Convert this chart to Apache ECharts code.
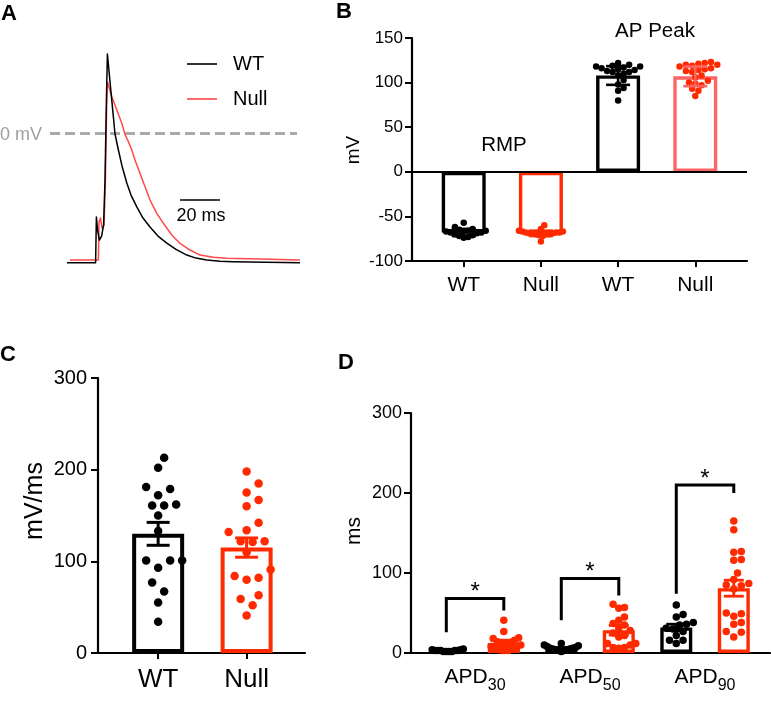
<!DOCTYPE html>
<html><head><meta charset="utf-8">
<script src="https://cdn.jsdelivr.net/npm/echarts@6/dist/echarts.min.js"></script>
<style>html,body{margin:0;padding:0;background:#fff}#c{width:771px;height:701px}</style>
</head><body><div id="c"></div><script>
// ---------- Panel A: action potential traces (ms, mV) ----------
const traceTimeWT = [0, 14.3, 14.7, 15.3, 16.2, 17.3, 18.3, 19.0, 19.7, 20.2, 22.0, 24.0, 25.7, 27.5, 29.9, 32.0, 34.9, 38.0, 41.5, 45.5, 49.9, 54.5, 59.9, 64.5, 69.9, 76.5, 83.0, 116.5];
const traceVoltWT = [-68.7, -68.7, -44.4, -51.3, -56.6, -54.5, -48.6, -24.7, 17.9, 42.3, 22.1, -0.2, -8.7, -17.2, -26.3, -32.7, -39.0, -44.9, -49.7, -54.5, -58.2, -61.6, -64.6, -66.2, -67.2, -67.9, -68.1, -68.7];
const traceTimeNull = [1.5, 15.7, 16.0, 16.8, 17.5, 18.5, 19.2, 19.8, 20.2, 22.4, 24.9, 27.4, 29.0, 30.7, 32.4, 34.0, 36.5, 39.0, 41.5, 44.9, 48.2, 52.4, 56.5, 61.5, 66.5, 73.2, 79.9, 96.5, 116.5];
const traceVoltNull = [-67.2, -67.2, -47.0, -44.9, -50.2, -48.6, -24.7, 12.6, 27.6, 19.6, 12.6, 5.5, -0.4, -4.3, -8.7, -14.0, -21.1, -28.2, -35.3, -42.4, -47.7, -53.9, -58.4, -61.9, -64.6, -65.8, -66.3, -66.7, -67.2];
const zeroLineSpan = [-8.5, 115];
const scaleBar = [56.5, 20, -35.3]; // start ms, length ms, level mV

// ---------- Panel B: RMP and AP peak (mV) ----------
const bCategories = ['WT', 'Null', 'WT', 'Null'];
const rmpWT = [-57, -62, -64, -65, -66, -66, -67, -67, -68, -68, -69, -70, -71, -72, -73, -74];
const rmpNull = [-60, -64, -66, -67, -67, -68, -68, -68, -69, -69, -69, -70, -70, -70, -71, -72, -78];
const peakWT = [122, 120, 119, 118, 118, 117, 116, 115, 114, 113, 112, 112, 110, 108, 103, 98, 94, 91, 80];
const peakNull = [123, 122, 121, 120, 120, 119, 118, 116, 115, 114, 113, 112, 108, 106, 102, 100, 99, 97, 93, 91, 85];
const bMeans = [-68, -69, 108, 107];
const bErr = [4, 3, 10.5, 11];

// ---------- Panel C: dV/dt max (mV/ms) ----------
const cCategories = ['WT', 'Null'];
const cWT = [213, 202, 181, 179, 172, 162, 161, 161, 150, 133, 101, 101, 101, 93, 77, 67, 55, 34];
const cNull = [198, 185, 175, 167, 160, 142, 134, 132, 122, 122, 121, 110, 91, 84, 82, 80, 63, 59, 52, 41];
const cMeans = [130, 115];
const cErr = [12.5, 10.5];

// ---------- Panel D: APD (ms) ----------
const dCategories = ['APD30', 'APD50', 'APD90'];
const dWT30 = [5, 4, 4, 3, 3, 3, 3, 2, 2, 2, 2, 3];
const dNull30 = [41, 27, 19, 18, 16, 14, 13, 12, 11, 10, 8, 6, 5, 5, 4, 3, 3];
const dWT50 = [12, 10, 9, 8, 7, 6, 6, 5, 5, 4, 4, 3, 3, 2];
const dNull50 = [61, 57, 56, 45, 41, 37, 35, 31, 28, 25, 22, 20, 12, 12, 10, 7, 7, 6];
const dWT90 = [60, 48, 45, 38, 36, 35, 31, 30, 27, 22, 16, 16, 12];
const dNull90 = [165, 154, 127, 126, 117, 116, 100, 92, 87, 85, 84, 80, 50, 49, 46, 38, 36, 27, 26, 20];
const dMeansWT = [3.5, 6, 32];
const dMeansNull = [12.5, 28.5, 81];
const dErrWT = [0.5, 0.8, 4];
const dErrNull = [3.5, 6, 10];
const dBracketTop = [68, 93, 210];
const dBracketFootWT = [26, 41, 74];
const dBracketFootNull = [53, 72, 200];

// ---------- layout / style ----------
const FONT = "'Liberation Sans', Arial, Helvetica, sans-serif";
const BLACK = '#000000', RED = '#ff2a00', RED_LIGHT = '#ff6464', TRACE_RED = '#ff4848';
const G = {
  A: {left: 47, top: 49, width: 260, height: 220, x: [-10, 120], y: [-72, 45]},
  B: {left: 412, top: 38, width: 335, height: 223, x: [0.33, 4.67], y: [-100, 150]},
  C: {left: 98, top: 378, width: 207, height: 275, x: [0.32, 2.66], y: [0, 300]},
  D: {left: 411, top: 413, width: 359, height: 240, x: [0.443, 3.565], y: [0, 300]}
};
function pxX(g) { return g.width / (g.x[1] - g.x[0]); }
function pxY(g) { return g.height / (g.y[1] - g.y[0]); }

function swarm(values, g, diam, limit) {
  const sx = pxX(g), sy = pxY(g);
  const order = values.map((v, i) => i).sort((a, b) => values[a] - values[b]);
  const placed = [];
  const off = new Array(values.length).fill(0);
  const step = diam * 0.5;
  for (const i of order) {
    const py = values[i] * sy;
    for (let k = 0; k < 400; k++) {
      const m = Math.ceil(k / 2) * (k % 2 ? 1 : -1);
      const px = m * step;
      let ok = true;
      for (const p of placed) {
        const dx = p[0] - px, dy = p[1] - py;
        if (dx * dx + dy * dy < diam * diam * 0.85) { ok = false; break; }
      }
      if (ok) { placed.push([px, py]); off[i] = px; break; }
    }
  }
  const maxAbs = Math.max.apply(null, off.map(Math.abs));
  const scale = maxAbs > limit ? limit / maxAbs : 1;
  return off.map(o => o * scale / sx);
}
function pts(values, x, g, diam, limit) {
  const off = swarm(values, g, diam, limit);
  return values.map((v, i) => [x + off[i], v]);
}

const axisLineStyle = {color: BLACK, width: 2.2};
function yAxisOf(idx, g, fs, interval, margin) {
  return {
    gridIndex: idx, type: 'value', min: g.y[0], max: g.y[1], interval: interval,
    axisLine: {show: true, onZero: false, lineStyle: axisLineStyle},
    axisTick: {show: true, length: 7, lineStyle: {color: BLACK, width: 2}},
    axisLabel: {color: BLACK, fontFamily: FONT, fontSize: fs, margin: margin},
    splitLine: {show: false}
  };
}
function xAxisOf(idx, g, custom, labelOpt, tick) {
  return {
    gridIndex: idx, type: 'value', min: g.x[0], max: g.x[1],
    axisLine: {show: true, onZero: false, lineStyle: axisLineStyle},
    axisTick: tick ? {show: true, customValues: custom, length: 6, lineStyle: {color: BLACK, width: 2}} : {show: false},
    axisLabel: Object.assign({customValues: custom, color: BLACK, fontFamily: FONT}, labelOpt),
    splitLine: {show: false}
  };
}

function errSeries(idx, items, capW, lw) {
  return {
    type: 'custom', xAxisIndex: idx, yAxisIndex: idx, z: 5, silent: true,
    data: items,
    renderItem: function (params, api) {
      const x = api.value(0), m = api.value(1), e = api.value(2);
      const t = api.coord([x, m + e]), b = api.coord([x, m - e]);
      const st = {stroke: api.visual('color'), lineWidth: lw};
      const h = capW / 2;
      return {type: 'group', children: [
        {type: 'line', shape: {x1: t[0], y1: t[1], x2: b[0], y2: b[1]}, style: st},
        {type: 'line', shape: {x1: t[0] - h, y1: t[1], x2: t[0] + h, y2: t[1]}, style: st},
        {type: 'line', shape: {x1: b[0] - h, y1: b[1], x2: b[0] + h, y2: b[1]}, style: st}
      ]};
    }
  };
}
function scatterSeries(idx, data, color, size) {
  return {type: 'scatter', xAxisIndex: idx, yAxisIndex: idx, z: 4, symbolSize: size, data: data,
    itemStyle: {color: color, opacity: 1}, silent: true};
}
function barItem(x, y, color) {
  return {value: [x, y], itemStyle: {borderColor: color}};
}
function barSeries(idx, items, w, bw, extra) {
  return Object.assign({type: 'bar', xAxisIndex: idx, yAxisIndex: idx, z: 2, barWidth: w, silent: true,
    itemStyle: {color: '#ffffff', borderWidth: bw}, data: items}, extra || {});
}

const bPos = [1, 2, 3, 4];
const bColors = [BLACK, RED, BLACK, RED_LIGHT];
const bPointColors = [BLACK, RED, BLACK, RED];
const bGroups = [rmpWT, rmpNull, peakWT, peakNull];
const dOffset = 0.25;

const series = [
  // A
  {type: 'line', name: '0 mV ref', xAxisIndex: 0, yAxisIndex: 0, symbol: 'none', z: 1, silent: true,
    data: zeroLineSpan.map(t => [t, 0]), lineStyle: {color: '#aaaaaa', width: 3, type: [10, 5]}},
  {type: 'line', name: 'WT', xAxisIndex: 0, yAxisIndex: 0, symbol: 'none', z: 3, color: BLACK,
    data: traceTimeWT.map((t, i) => [t, traceVoltWT[i]]), lineStyle: {color: BLACK, width: 1.5, join: 'round'}},
  {type: 'line', name: 'Null', xAxisIndex: 0, yAxisIndex: 0, symbol: 'none', z: 2, color: TRACE_RED,
    data: traceTimeNull.map((t, i) => [t, traceVoltNull[i]]), lineStyle: {color: TRACE_RED, width: 1.5, join: 'round'}},
  {type: 'line', name: 'scale', xAxisIndex: 0, yAxisIndex: 0, symbol: 'none', silent: true,
    data: [[scaleBar[0], scaleBar[2]], [scaleBar[0] + scaleBar[1], scaleBar[2]]], lineStyle: {color: BLACK, width: 1.5}},
  // B
  barSeries(1, bPos.map((p, i) => barItem(p, bMeans[i], bColors[i])), 44, 3.4, {
    markLine: {silent: true, symbol: 'none', label: {show: false}, lineStyle: {color: BLACK, width: 2.2, type: 'solid'},
      data: [{yAxis: 0}]}
  }),
  ...bGroups.map((vals, i) => scatterSeries(1, pts(vals, bPos[i], G.B, 6.5, 22), bPointColors[i], 6.5)),
  errSeries(1, bPos.map((p, i) => ({value: [p, bMeans[i], bErr[i]], itemStyle: {color: bColors[i]}})), 24, 2.6),
  // C
  barSeries(2, [barItem(1, cMeans[0], BLACK), barItem(2, cMeans[1], RED)], 52, 4),
  scatterSeries(2, pts(cWT, 1, G.C, 12, 25), BLACK, 8.5),
  scatterSeries(2, pts(cNull, 2, G.C, 12, 25), RED, 8.5),
  errSeries(2, [{value: [1, cMeans[0], cErr[0]], itemStyle: {color: BLACK}}, {value: [2, cMeans[1], cErr[1]], itemStyle: {color: RED}}], 23, 3),
  // D
  barSeries(3, [0, 1, 2].flatMap(i => [barItem(i + 1 - dOffset, dMeansWT[i], BLACK), barItem(i + 1 + dOffset, dMeansNull[i], RED)]), 32, 3.4),
  ...[[dWT30, dNull30], [dWT50, dNull50], [dWT90, dNull90]].flatMap((pair, i) => [
    scatterSeries(3, pts(pair[0], i + 1 - dOffset, G.D, 7.5, 17), BLACK, 7.5),
    scatterSeries(3, pts(pair[1], i + 1 + dOffset, G.D, 7.5, 17), RED, 7.5)
  ]),
  errSeries(3, [0, 1, 2].flatMap(i => [
    {value: [i + 1 - dOffset, dMeansWT[i], dErrWT[i]], itemStyle: {color: BLACK}},
    {value: [i + 1 + dOffset, dMeansNull[i], dErrNull[i]], itemStyle: {color: RED}}
  ]), 20, 2.8),
  {type: 'custom', xAxisIndex: 3, yAxisIndex: 3, z: 6, silent: true,
    data: dBracketTop.map((t, i) => [i + 1, dBracketFootWT[i], dBracketFootNull[i], t]),
    renderItem: function (params, api) {
      const g = api.value(0), fl = api.value(1), fr = api.value(2), t = api.value(3);
      const p1 = api.coord([g - dOffset, fl]), p2 = api.coord([g - dOffset, t]);
      const p3 = api.coord([g + dOffset, t]), p4 = api.coord([g + dOffset, fr]);
      return {type: 'group', children: [
        {type: 'polyline', shape: {points: [p1, p2, p3, p4]}, style: {stroke: BLACK, lineWidth: 3, fill: null}},
        {type: 'text', x: (p2[0] + p3[0]) / 2, y: p2[1] - 6,
          style: {text: '*', fontSize: 24, fontFamily: FONT, fill: BLACK, align: 'center', verticalAlign: 'middle',
            textAlign: 'center', textVerticalAlign: 'middle'}}
      ]};
    }
  }
];

function txt(text, x, y, fs, opts) {
  const o = Object.assign({align: 'left', va: 'middle', color: BLACK, weight: 'normal', rot: 0}, opts || {});
  return {type: 'text', x: x, y: y, rotation: o.rot, silent: true,
    style: {text: text, fontSize: fs, fontFamily: FONT, fontWeight: o.weight, fill: o.color,
      align: o.align, verticalAlign: o.va, textAlign: o.align, textVerticalAlign: o.va}};
}

const option = {
  animation: false,
  backgroundColor: '#ffffff',
  grid: [G.A, G.B, G.C, G.D].map(g => ({left: g.left, top: g.top, width: g.width, height: g.height, containLabel: false, outerBoundsMode: 'none'})),
  xAxis: [
    {gridIndex: 0, type: 'value', min: G.A.x[0], max: G.A.x[1], show: false},
    xAxisOf(1, G.B, bPos, {fontSize: 21, margin: 14, formatter: v => bCategories[Math.round(v) - 1]}, true),
    xAxisOf(2, G.C, [1, 2], {fontSize: 26, margin: 14, formatter: v => cCategories[Math.round(v) - 1]}, true),
    xAxisOf(3, G.D, [1, 2, 3], {margin: 14, formatter: v => {
      const n = dCategories[Math.round(v) - 1];
      return '{a|' + n.slice(0, 3) + '}{b|' + n.slice(3) + '}';
    }, rich: {
      a: {fontSize: 21, lineHeight: 24, fontFamily: FONT, color: BLACK, verticalAlign: 'top'},
      b: {fontSize: 16, lineHeight: 16, fontFamily: FONT, color: BLACK, verticalAlign: 'top', padding: [11, 0, 0, 0]}
    }}, false)
  ],
  yAxis: [
    {gridIndex: 0, type: 'value', min: G.A.y[0], max: G.A.y[1], show: false},
    yAxisOf(1, G.B, 17, 50, 9),
    yAxisOf(2, G.C, 20, 100, 11),
    yAxisOf(3, G.D, 18, 100, 9)
  ],
  legend: {data: ['WT', 'Null'], orient: 'vertical', left: 182, top: 49, itemWidth: 30, itemHeight: 1.6, itemGap: 15,
    icon: 'rect', selectedMode: false,
    textStyle: {fontSize: 20, fontFamily: FONT, color: BLACK, padding: [0, 0, 0, 11]}},
  graphic: [
    txt('A', 1, 3, 22, {weight: 'bold', va: 'top'}),
    txt('B', 336, 1, 22, {weight: 'bold', va: 'top'}),
    txt('C', 0, 344, 22, {weight: 'bold', va: 'top'}),
    txt('D', 338, 352, 22, {weight: 'bold', va: 'top'}),
    txt('0 mV', 42, 135, 18, {align: 'right', color: '#a0a0a0'}),
    txt('20 ms', 201, 216, 18, {align: 'center'}),
    txt('RMP', 504, 145, 20.5, {align: 'center'}),
    txt('AP Peak', 655, 31, 20.5, {align: 'center'}),
    txt('mV', 354, 150, 19, {align: 'center', rot: Math.PI / 2}),
    txt('mV/ms', 35, 501, 25, {align: 'center', rot: Math.PI / 2}),
    txt('ms', 354, 531, 21, {align: 'center', rot: Math.PI / 2})
  ],
  series: series
};

const chart = echarts.init(document.getElementById('c'), null, {renderer: 'canvas', width: 771, height: 701});
chart.setOption(option);
</script></body></html>
